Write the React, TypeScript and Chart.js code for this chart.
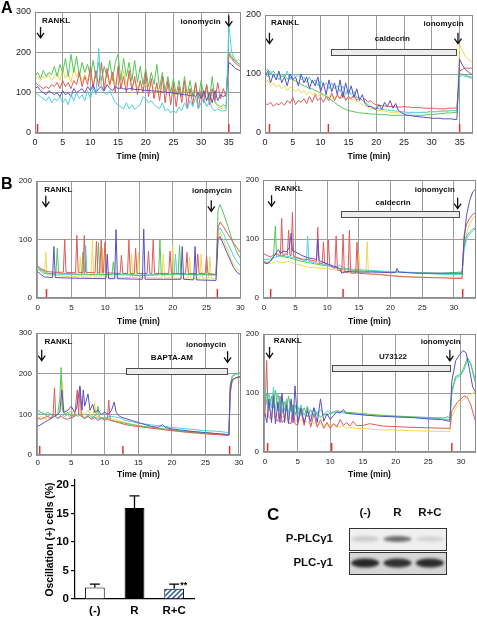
import React, { useEffect, useRef } from 'react';
import { Chart, registerables } from 'chart.js';

Chart.register(...registerables);

const SANS = "'Liberation Sans', Arial, Helvetica, sans-serif";
const NARROW = "'Liberation Sans Narrow', 'Arial Narrow', 'Liberation Sans', Arial, sans-serif";

const RED = '#e05a5a';
const YELLOW = '#ecda55';
const GREEN = '#55c655';
const CYAN = '#4fd0e2';
const BLUE = '#5a4fc4';

// ---------------- Panel A : samples every 0.5 min from 0 to 37.5 min ----------------
const A_STEP = 0.5;

const aLeftGreen = [
  140, 150, 135, 155, 140, 150, 145, 165, 140, 170,
  150, 185, 140, 195, 150, 190, 140, 175, 150, 170,
  140, 180, 135, 175, 130, 165, 140, 180, 130, 175,
  195, 130, 185, 140, 175, 130, 180, 125, 165, 120,
  160, 115, 150, 120, 170, 110, 150, 105, 140, 100,
  135, 95, 130, 90, 140, 95, 130, 90, 125, 85,
  130, 90, 120, 80, 140, 75, 70, 65, 70, 65,
  200, 190, 180, 175, 170, 165,
];
const aLeftYellow = [
  135, 140, 130, 140, 135, 145, 130, 140, 150, 130,
  160, 135, 150, 125, 160, 140, 155, 125, 145, 130,
  150, 120, 150, 125, 160, 120, 145, 115, 150, 120,
  140, 115, 155, 120, 140, 115, 130, 110, 125, 110,
  120, 105, 120, 110, 115, 105, 110, 100, 115, 105,
  110, 100, 110, 95, 105, 100, 110, 95, 105, 95,
  100, 90, 105, 90, 95, 80, 65, 60, 62, 60,
  190, 185, 182, 180, 180, 178,
];
const aLeftRed = [
  125, 120, 115, 110, 115, 110, 120, 115, 125, 110,
  130, 115, 125, 110, 130, 120, 150, 115, 140, 120,
  165, 110, 155, 115, 175, 105, 160, 120, 150, 100,
  165, 110, 140, 100, 155, 105, 140, 95, 130, 100,
  150, 90, 135, 85, 125, 80, 140, 75, 130, 70,
  120, 65, 115, 75, 130, 60, 110, 70, 125, 60,
  105, 75, 120, 70, 110, 80, 125, 85, 110, 90,
  195, 185, 175, 170, 165, 162,
];
const aLeftBlue = [
  110, 115, 105, 100, 95, 105, 100, 95, 100, 90,
  105, 95, 100, 90, 110, 100, 105, 110, 100, 115,
  105, 120, 100, 110, 115, 105, 120, 110, 105, 115,
  110, 112, 110, 108, 110, 110, 108, 108, 108, 106,
  106, 105, 105, 104, 104, 103, 102, 102, 100, 100,
  99, 98, 97, 96, 95, 94, 92, 95, 90, 100,
  85, 105, 80, 100, 75, 105, 80, 95, 90, 95,
  175, 170, 162, 158, 155, 155,
];
const aLeftCyan = [
  100, 95, 90, 85, 80, 90, 75, 85, 80, 90,
  75, 85, 70, 95, 80, 100, 85, 95, 80, 105,
  85, 110, 95, 210, 110, 100, 95, 105, 90, 75,
  70, 65, 60, 75, 60, 70, 58, 65, 70, 90,
  85, 75, 80, 70, 65, 60, 75, 55, 60, 50,
  55, 50, 65, 55, 75, 60, 80, 65, 90, 60,
  75, 85, 65, 80, 60, 55, 60, 55, 55, 55,
  270, 200, 185, 175, 170, 168,
];

const aRightBlue = [
  95, 105, 85, 100, 90, 105, 85, 95, 80, 100,
  90, 95, 80, 100, 85, 95, 75, 90, 80, 95,
  70, 85, 65, 90, 70, 85, 65, 90, 60, 85,
  65, 80, 60, 75, 55, 65, 50, 45, 45, 42,
  40, 48, 40, 52, 45, 55, 42, 50, 38, 35,
  32, 30, 30, 29, 28, 28, 27, 27, 26, 26,
  25, 25, 25, 25, 24, 24, 24, 24, 23, 23,
  125, 115, 108, 104, 100, 98,
];
const aRightCyan = [
  100, 95, 105, 95, 100, 90, 100, 95, 105, 90,
  100, 95, 100, 90, 95, 85, 95, 85, 90, 80,
  90, 80, 85, 75, 85, 75, 80, 70, 80, 65,
  75, 65, 70, 60, 60, 55, 52, 48, 45, 43,
  42, 41, 40, 40, 39, 38, 38, 37, 37, 36,
  36, 35, 35, 35, 35, 35, 35, 35, 35, 36,
  36, 36, 36, 37, 37, 37, 37, 38, 38, 38,
  95, 98, 96, 95, 93, 92,
];
const aRightGreen = [
  105, 108, 100, 105, 98, 100, 95, 98, 92, 95,
  90, 88, 85, 82, 80, 78, 75, 75, 72, 70,
  68, 65, 62, 60, 55, 52, 48, 45, 42, 40,
  38, 37, 36, 35, 34, 34, 33, 33, 32, 32,
  32, 31, 31, 31, 31, 30, 30, 30, 30, 30,
  30, 30, 30, 30, 30, 30, 30, 30, 31, 31,
  31, 32, 32, 33, 33, 34, 34, 34, 35, 35,
  100, 100, 98, 96, 95, 94,
];
const aRightYellow = [
  85, 90, 80, 85, 78, 82, 75, 80, 72, 78,
  75, 70, 75, 68, 72, 65, 70, 65, 68, 62,
  66, 62, 65, 60, 63, 60, 62, 58, 62, 58,
  60, 56, 58, 54, 52, 48, 46, 44, 42, 40,
  40, 38, 38, 37, 36, 35, 35, 34, 34, 34,
  33, 33, 33, 34, 34, 34, 35, 35, 35, 36,
  36, 36, 37, 37, 38, 38, 38, 38, 38, 38,
  150, 140, 130, 125, 122, 120,
];
const aRightRed = [
  50, 48, 52, 45, 50, 48, 52, 47, 55, 50,
  60, 48, 55, 52, 58, 50, 62, 52, 65, 55,
  60, 52, 62, 55, 68, 55, 65, 58, 70, 55,
  62, 58, 65, 55, 60, 55, 58, 52, 55, 50,
  48, 47, 46, 46, 45, 45, 45, 44, 44, 44,
  45, 44, 44, 43, 43, 43, 43, 42, 42, 42,
  42, 42, 41, 41, 41, 41, 42, 42, 42, 43,
  105, 108, 110, 110, 110, 110,
];

// ---------------- Panel B : [time (min), value] ----------------
const b1LeftRed = [
  [0, 55], [0.5, 50], [1, 47], [1.5, 45], [2.5, 44], [3.8, 44], [4, 100], [4.2, 44], [5.6, 43], [5.8, 107], [6, 44],
  [6.7, 43], [6.9, 107], [7.1, 44], [8.5, 43], [8.7, 97], [8.9, 43], [9.2, 43], [9.4, 100], [9.6, 43], [9.75, 43],
  [9.95, 95], [10.15, 43], [12.2, 42], [12.4, 73], [12.6, 42], [13.3, 42], [13.5, 100], [13.7, 42], [14.3, 42],
  [14.5, 85], [14.7, 42], [16.2, 42], [16.4, 80], [16.6, 42], [16.9, 42], [17.1, 100], [17.3, 42], [19.4, 42],
  [19.6, 80], [19.8, 42], [21.9, 42], [22.1, 78], [22.3, 42], [23.5, 42], [23.7, 75], [23.9, 42], [24.8, 42],
  [25, 72], [25.2, 42], [26.4, 40], [26.7, 120], [27, 130], [27.5, 122], [28, 112], [28.5, 103], [29, 94],
  [29.5, 86], [30, 78], [30.3, 74],
];
const b1LeftGreen = [
  [0, 52], [0.5, 48], [1, 45], [1.5, 42], [2.7, 41], [2.9, 85], [3.1, 41], [4.5, 42], [6.5, 40], [6.7, 78], [6.9, 40],
  [8.8, 40], [9, 95], [9.2, 40], [11, 40], [11.2, 62], [11.4, 40], [13, 41], [15, 38], [17.9, 40], [18.1, 100],
  [18.3, 40], [20.8, 41], [21, 90], [21.2, 41], [23, 40], [26.4, 40], [26.7, 150], [27, 160], [27.5, 145],
  [28, 128], [28.5, 110], [29, 92], [29.5, 78], [30, 68], [30.3, 63],
];
const b1LeftYellow = [
  [0, 50], [0.5, 45], [1, 40], [1.2, 78], [1.4, 40], [3, 38], [6.1, 36], [6.3, 70], [6.5, 36], [7.9, 36], [8.1, 98],
  [8.3, 36], [9.4, 36], [9.6, 85], [9.8, 36], [13.7, 35], [13.9, 75], [14.1, 35], [14.7, 35], [14.9, 78], [15.1, 35],
  [18.4, 34], [18.6, 75], [18.8, 34], [19.8, 34], [20, 90], [20.2, 34], [22.3, 34], [22.5, 70], [22.7, 34],
  [24, 34], [24.2, 75], [24.4, 34], [25.3, 34], [25.5, 70], [25.7, 34], [26.4, 33], [26.7, 100], [27, 112],
  [27.5, 100], [28, 85], [28.5, 70], [29, 58], [29.5, 50], [30, 45], [30.3, 42],
];
const b1LeftCyan = [
  [0, 50], [0.5, 46], [1, 42], [2, 41], [6.9, 40], [7.1, 90], [7.3, 40], [10, 40], [15, 39], [20.2, 40], [20.4, 75],
  [20.6, 40], [24, 40], [26.4, 39], [26.7, 115], [27, 120], [27.5, 110], [28, 97], [28.5, 85], [29, 72],
  [29.5, 62], [30, 55], [30.3, 52],
];
const b1LeftBlue = [
  [0, 45], [0.5, 40], [1, 36], [2.2, 35], [2.4, 88], [2.6, 35], [5, 34], [10.1, 33], [10.3, 75], [10.5, 33],
  [11.4, 33], [11.6, 117], [11.8, 33], [15.5, 32], [15.7, 118], [15.9, 32], [21.2, 32], [21.4, 88], [21.6, 32],
  [23.1, 31], [23.3, 88], [23.5, 31], [26.4, 30], [26.7, 100], [27, 105], [27.5, 92], [28, 78], [28.5, 65],
  [29, 52], [29.5, 44], [30, 40], [30.3, 38],
];

const b1RightRed = [
  [0, 75], [0.5, 72], [1, 70], [1.5, 72], [2, 75], [2.6, 72], [2.8, 135], [3, 72], [3.5, 75], [3.7, 73], [3.9, 115],
  [4.1, 72], [4.3, 72], [4.5, 145], [4.7, 70], [5.5, 68], [6, 66], [7, 65], [8.3, 62], [8.5, 120], [8.7, 60],
  [9.2, 58], [9.4, 95], [9.6, 58], [10, 57], [10.2, 98], [10.4, 55], [11.2, 50], [11.4, 105], [11.6, 48],
  [12.3, 45], [12.5, 108], [12.7, 44], [13.3, 43], [13.5, 115], [13.7, 42], [14.5, 42], [14.7, 95], [14.9, 42],
  [16, 41], [18, 40], [20, 38], [22, 36], [25, 35], [28, 34], [31.3, 33], [31.6, 105], [32, 125], [32.5, 135],
  [33, 142], [33.5, 145],
];
const b1RightGreen = [
  [0, 62], [0.5, 60], [1, 62], [1.5, 68], [1.8, 122], [2, 70], [2.5, 72], [3, 70], [4, 68], [5, 65], [6, 62],
  [7, 60], [8, 58], [9, 56], [10, 55], [11, 52], [12, 50], [13, 48], [15, 46], [18, 45], [21, 44], [25, 43],
  [28, 42], [31.3, 44], [31.6, 85], [32, 105], [32.5, 112], [33, 117], [33.5, 120],
];
const b1RightYellow = [
  [0, 60], [1, 58], [2, 62], [3, 60], [4, 62], [5, 58], [6, 55], [7, 52], [8, 52], [9, 50], [10, 50], [11, 48],
  [12, 46], [13, 44], [14, 44], [14.8, 42], [15, 75], [15.2, 42], [16.1, 42], [16.3, 95], [16.5, 42], [18, 40],
  [20, 38], [23, 36], [26, 35], [29, 35], [31.3, 35], [31.6, 90], [32, 110], [32.5, 125], [33, 135], [33.5, 140],
];
const b1RightCyan = [
  [0, 65], [1, 66], [2, 70], [3, 72], [4, 70], [5, 68], [6, 65], [6.7, 62], [6.9, 105], [7.1, 62], [8, 60],
  [9, 58], [10, 55], [11, 52], [12, 55], [12.5, 52], [13, 50], [15, 48], [18, 46], [21, 44], [25, 42], [28, 40],
  [31.3, 40], [31.6, 80], [32, 100], [32.5, 108], [33, 114], [33.5, 118],
];
const b1RightBlue = [
  [0, 60], [0.5, 58], [1, 62], [1.5, 70], [2, 78], [2.3, 82], [2.6, 75], [3, 80], [3.5, 78], [4, 85], [4.3, 110],
  [4.5, 80], [5, 78], [5.5, 75], [6, 72], [6.5, 70], [7, 68], [8, 66], [8.3, 65], [8.5, 100], [8.7, 64], [9, 62],
  [10, 58], [11, 54], [12, 50], [12.3, 42], [13, 45], [15, 44], [17, 44], [20, 43], [20.8, 43], [21, 50],
  [21.3, 44], [24, 42], [27, 42], [30, 42], [31.3, 42], [31.6, 95], [32, 140], [32.5, 165], [33, 180], [33.5, 185],
];

const b2LeftRed = [
  [0, 90], [0.5, 88], [1, 92], [1.5, 95], [2, 90], [2.3, 100], [2.5, 165], [2.7, 95], [3, 90], [3.5, 95], [4, 90],
  [4.5, 88], [5, 92], [5.5, 95], [5.9, 160], [6.1, 100], [6.3, 165], [6.5, 95], [7, 90], [7.5, 95], [8, 88],
  [8.5, 92], [9, 85], [9.5, 90], [10, 85], [10.4, 90], [10.6, 135], [10.8, 85], [11.5, 82], [12, 80], [13, 75],
  [14, 72], [15, 70], [17, 66], [19, 62], [21, 58], [23, 55], [25, 52], [27, 50], [28.5, 48], [28.7, 150],
  [29, 185], [29.5, 190], [30, 192], [30.3, 192],
];
const b2LeftGreen = [
  [0, 110], [0.5, 105], [1, 100], [1.5, 105], [2, 100], [2.5, 95], [3, 100], [3.3, 140], [3.5, 215], [3.7, 110],
  [4, 100], [4.5, 105], [5, 95], [5.5, 100], [6, 95], [6.5, 100], [7, 90], [7.5, 95], [8, 90], [8.8, 100],
  [9, 120], [9.2, 92], [10, 90], [11, 85], [12, 82], [13, 78], [14, 75], [15, 72], [17, 68], [19, 64], [21, 60],
  [23, 57], [25, 55], [27, 52], [28.5, 50], [28.7, 170], [29, 195], [29.5, 200], [30, 202], [30.3, 202],
];
const b2LeftYellow = [
  [0, 90], [0.5, 95], [1, 90], [1.5, 88], [2, 92], [2.5, 95], [3, 100], [3.5, 110], [3.7, 180], [3.9, 105],
  [4.5, 100], [5, 110], [5.5, 95], [6, 100], [6.5, 105], [7, 100], [7.5, 110], [8, 95], [8.3, 100], [8.5, 130],
  [8.7, 95], [9.5, 92], [10.5, 90], [11.5, 88], [12, 85], [13, 80], [14, 76], [15, 72], [17, 66], [19, 62],
  [21, 58], [23, 55], [25, 52], [27, 50], [28.5, 48], [28.7, 160], [29, 180], [29.5, 188], [30, 190], [30.3, 190],
];
const b2LeftCyan = [
  [0, 100], [0.5, 105], [1, 100], [1.5, 95], [2, 100], [2.5, 95], [3, 90], [3.5, 100], [4, 95], [4.5, 100],
  [5, 90], [5.5, 95], [6, 100], [6.5, 95], [7, 92], [7.5, 98], [8, 95], [9, 90], [10, 92], [11, 95], [12, 92],
  [12.5, 90], [13, 85], [14, 82], [15, 78], [17, 74], [19, 70], [21, 66], [23, 63], [25, 60], [27, 58],
  [28.5, 55], [28.7, 175], [29, 192], [29.5, 198], [30, 200], [30.3, 200],
];
const b2LeftBlue = [
  [0, 70], [0.5, 75], [1, 80], [1.5, 85], [2, 90], [2.5, 95], [3, 100], [3.3, 105], [3.6, 160], [3.9, 105],
  [4.5, 110], [5, 120], [5.5, 105], [5.8, 115], [6.3, 170], [6.6, 110], [6.8, 160], [7, 120], [7.5, 150],
  [7.8, 110], [8.2, 125], [8.5, 105], [9, 110], [9.5, 100], [10, 105], [10.5, 100], [11, 110], [11.4, 130],
  [11.7, 105], [12.2, 95], [13, 90], [14, 85], [15, 80], [16, 75], [17, 70], [18, 68], [18.6, 75], [19, 68],
  [20, 64], [21, 62], [23, 58], [25, 55], [27, 52], [28.5, 50], [28.7, 165], [29, 185], [29.5, 190], [30, 192],
  [30.3, 192],
];

const b2RightRed = [
  [0, 60], [0.25, 155], [0.5, 60], [1, 55], [1.3, 100], [1.6, 55], [2, 52], [2.3, 95], [2.6, 50], [3, 55],
  [3.3, 90], [3.6, 50], [4, 48], [4.3, 80], [4.6, 48], [5, 45], [5.5, 70], [6, 45], [6.5, 75], [7, 42], [7.5, 65],
  [8, 42], [8.5, 55], [9, 40], [9.5, 50], [10, 40], [10.5, 48], [11, 42], [11.5, 55], [12, 45], [12.5, 50],
  [13, 44], [13.5, 52], [14, 45], [15, 45], [16, 48], [17, 46], [18, 44], [20, 43], [22, 42], [25, 41],
  [28.3, 40], [28.6, 70], [29.5, 85], [30.5, 95], [31, 92], [31.5, 80], [32, 60], [32.3, 50],
];
const b2RightCyan = [
  [0, 110], [0.3, 80], [0.6, 100], [1, 75], [1.3, 110], [1.6, 70], [2, 100], [2.3, 70], [2.6, 95], [3, 70],
  [3.3, 90], [3.6, 65], [4, 85], [4.3, 65], [4.6, 80], [5, 62], [5.5, 80], [6, 62], [6.5, 78], [7, 60], [7.5, 75],
  [8, 62], [8.5, 72], [9, 62], [9.5, 70], [10, 65], [11, 68], [12, 66], [14, 64], [16, 62], [18, 61], [20, 60],
  [22, 59], [24, 58], [26, 57], [28.3, 55], [28.6, 100], [29.2, 125], [30, 130], [30.5, 140], [31, 155],
  [31.5, 150], [32, 130], [32.3, 120],
];
const b2RightGreen = [
  [0, 90], [0.3, 100], [0.6, 70], [1, 95], [1.3, 75], [1.6, 105], [2, 70], [2.3, 90], [2.6, 65], [3, 85],
  [3.3, 70], [3.6, 95], [4, 68], [4.3, 80], [4.6, 62], [5, 78], [5.5, 62], [6, 75], [6.5, 60], [7, 72], [7.5, 60],
  [8, 68], [8.5, 58], [9, 65], [9.5, 62], [10, 66], [10.5, 68], [11, 70], [12, 68], [14, 66], [16, 64], [18, 62],
  [20, 61], [22, 60], [24, 59], [26, 58], [27.5, 58], [28, 60], [28.3, 56], [28.6, 105], [29.2, 128], [30, 132],
  [30.5, 145], [31, 160], [31.5, 150], [32, 125], [32.3, 115],
];
const b2RightBlue = [
  [0, 65], [0.3, 50], [0.6, 90], [1, 50], [1.3, 95], [1.6, 48], [2, 85], [2.3, 50], [2.6, 100], [3, 50],
  [3.3, 80], [3.6, 48], [4, 90], [4.3, 50], [4.6, 112], [5, 50], [5.5, 75], [6, 50], [6.5, 70], [7, 52],
  [7.5, 75], [8, 50], [8.5, 90], [9, 52], [9.5, 65], [10, 55], [10.5, 62], [11, 68], [11.5, 66], [12, 72],
  [12.4, 66], [13, 65], [15, 63], [17, 61], [19, 60], [21, 59], [23, 58], [25, 56], [27, 55], [28.3, 52],
  [28.6, 120], [29.2, 155], [29.8, 165], [30.3, 172], [30.8, 168], [31.3, 140], [31.8, 110], [32.3, 100],
];
const b2RightYellow = [
  [0, 65], [0.5, 60], [1, 62], [1.5, 58], [2, 65], [2.5, 60], [3, 60], [3.5, 55], [4, 58], [4.5, 55], [5, 52],
  [5.5, 55], [6, 50], [6.5, 52], [7, 48], [7.5, 50], [8, 46], [8.5, 48], [9, 45], [9.5, 46], [10, 45],
  [10.5, 48], [11, 45], [11.5, 42], [12, 44], [12.5, 40], [13, 42], [14, 40], [15, 40], [17, 38], [20, 37],
  [23, 36], [26, 35], [28.3, 35], [28.6, 60], [29.5, 80], [30.5, 90], [31.5, 98], [32.3, 102],
];

// ---------------- Bar chart ----------------
const barLabels = ['(-)', 'R', 'R+C'];
const barValues = [2.0, 16.0, 1.8];
const barErrorTops = [2.6, 18.1, 2.6];
const barSig = ['', '', '**'];

// ---------------- Western blot (band intensity 0–1) ----------------
const blotLanes = ['(-)', 'R', 'R+C'];
const blotRows = ['P-PLCγ1', 'PLC-γ1'];
const blotPPlc = [0.16, 0.6, 0.12];
const blotPlc = [0.9, 0.85, 0.88];

type Pt = { x: number; y: number };
const fromSteps = (vals: number[], step: number): Pt[] => vals.map((y, i) => ({ x: i * step, y }));
const fromPairs = (pairs: number[][]): Pt[] => pairs.map(([x, y]) => ({ x, y }));

interface Panel {
  box: { left: number; top: number; width: number; height: number };
  padTop: number;
  padRight: number;
  yW: number;
  xH: number;
  xMin: number;
  xMax: number;
  yMax: number;
  tickFont: { family: string; size: number };
  tickPad: number;
  titlePad: number;
  series: { color: string; pts: Pt[] }[];
  texts: [number, number, string][];
  arrows: [number, number][];
  bars: [number, number, number][];
  marks: number[];
}

const A_TICK = { family: SANS, size: 9 };
const B_TICK = { family: NARROW, size: 8 };

const PANELS: Panel[] = [
  {
    box: { left: 0, top: 0, width: 250, height: 162 }, padTop: 12, padRight: 9, yW: 35, xH: 29,
    xMin: 0, xMax: 37.2, yMax: 300, tickFont: A_TICK, tickPad: 4, titlePad: 2,
    series: [
      { color: CYAN, pts: fromSteps(aLeftCyan, A_STEP) },
      { color: BLUE, pts: fromSteps(aLeftBlue, A_STEP) },
      { color: RED, pts: fromSteps(aLeftRed, A_STEP) },
      { color: GREEN, pts: fromSteps(aLeftGreen, A_STEP) },
      { color: YELLOW, pts: fromSteps(aLeftYellow, A_STEP) },
    ],
    texts: [[3.8, 277, 'RANKL'], [29.9, 275, 'ionomycin']],
    arrows: [[1.0, 263], [35.0, 292]],
    bars: [],
    marks: [0.45, 35],
  },
  {
    box: { left: 242, top: 0, width: 235, height: 162 }, padTop: 15, padRight: 4, yW: 23, xH: 29,
    xMin: 0, xMax: 37.4, yMax: 200, tickFont: A_TICK, tickPad: 4, titlePad: 2,
    series: [
      { color: BLUE, pts: fromSteps(aRightBlue, A_STEP) },
      { color: CYAN, pts: fromSteps(aRightCyan, A_STEP) },
      { color: GREEN, pts: fromSteps(aRightGreen, A_STEP) },
      { color: RED, pts: fromSteps(aRightRed, A_STEP) },
      { color: YELLOW, pts: fromSteps(aRightYellow, A_STEP) },
    ],
    texts: [[3.6, 186, 'RANKL'], [22.9, 160, 'caldecrin'], [32.1, 185, 'ionomycin']],
    arrows: [[0.8, 170], [34.7, 170]],
    bars: [[11.8, 34.4, 138]],
    marks: [0.8, 11.4, 35],
  },
  {
    box: { left: 0, top: 165, width: 250, height: 162 }, padTop: 16, padRight: 9, yW: 36, xH: 29,
    xMin: -0.25, xMax: 30.1, yMax: 200, tickFont: B_TICK, tickPad: 5, titlePad: 2,
    series: [
      { color: BLUE, pts: fromPairs(b1LeftBlue) },
      { color: RED, pts: fromPairs(b1LeftRed) },
      { color: GREEN, pts: fromPairs(b1LeftGreen) },
      { color: CYAN, pts: fromPairs(b1LeftCyan) },
      { color: YELLOW, pts: fromPairs(b1LeftYellow) },
    ],
    texts: [[3.05, 185, 'RANKL'], [25.8, 183, 'ionomycin']],
    arrows: [[1.2, 175], [25.7, 167]],
    bars: [],
    marks: [1.3, 26.6],
  },
  {
    box: { left: 242, top: 165, width: 235, height: 162 }, padTop: 15, padRight: 1, yW: 21, xH: 29,
    xMin: -0.15, xMax: 33.5, yMax: 200, tickFont: B_TICK, tickPad: 5, titlePad: 2,
    series: [
      { color: BLUE, pts: fromPairs(b1RightBlue) },
      { color: RED, pts: fromPairs(b1RightRed) },
      { color: CYAN, pts: fromPairs(b1RightCyan) },
      { color: GREEN, pts: fromPairs(b1RightGreen) },
      { color: YELLOW, pts: fromPairs(b1RightYellow) },
    ],
    texts: [[3.9, 185, 'RANKL'], [20.4, 161, 'caldecrin'], [27.0, 184, 'ionomycin']],
    arrows: [[1.2, 174], [30.6, 170]],
    bars: [[12.2, 30.8, 142]],
    marks: [1.06, 12.5, 31.4],
  },
  {
    box: { left: 0, top: 328, width: 250, height: 152 }, padTop: 5, padRight: 9, yW: 36, xH: 25,
    xMin: -0.25, xMax: 30.3, yMax: 300, tickFont: B_TICK, tickPad: 3, titlePad: 1,
    series: [
      { color: BLUE, pts: fromPairs(b2LeftBlue) },
      { color: RED, pts: fromPairs(b2LeftRed) },
      { color: GREEN, pts: fromPairs(b2LeftGreen) },
      { color: CYAN, pts: fromPairs(b2LeftCyan) },
      { color: YELLOW, pts: fromPairs(b2LeftYellow) },
    ],
    texts: [[3.1, 278, 'RANKL'], [20, 238, 'BAPTA-AM'], [25.1, 272, 'ionomycin']],
    arrows: [[0.6, 259], [28.3, 255]],
    bars: [[13.2, 28.2, 207]],
    marks: [0.3, 12.7, 28.6],
  },
  {
    box: { left: 242, top: 328, width: 235, height: 152 }, padTop: 6, padRight: 1, yW: 21, xH: 28,
    xMin: -0.3, xMax: 32.3, yMax: 200, tickFont: B_TICK, tickPad: 5, titlePad: 0,
    series: [
      { color: BLUE, pts: fromPairs(b2RightBlue) },
      { color: GREEN, pts: fromPairs(b2RightGreen) },
      { color: CYAN, pts: fromPairs(b2RightCyan) },
      { color: RED, pts: fromPairs(b2RightRed) },
      { color: YELLOW, pts: fromPairs(b2RightYellow) },
    ],
    texts: [[3.5, 189, 'RANKL'], [19.6, 161, 'U73122'], [26.9, 187, 'ionomycin']],
    arrows: [[0.7, 178], [28.3, 173]],
    bars: [[10.3, 28.3, 142]],
    marks: [0.4, 10.2, 28.6],
  },
];

function annotPlugin(p: Panel) {
  return {
    id: 'panelAnnot',
    afterDatasetsDraw(chart: any) {
      const { ctx, chartArea: a } = chart;
      const x = chart.scales.x;
      const y = chart.scales.y;
      ctx.save();
      // red event markers
      ctx.strokeStyle = '#e23030';
      ctx.lineWidth = 1.5;
      p.marks.forEach((t) => {
        const px = x.getPixelForValue(t);
        ctx.beginPath();
        ctx.moveTo(px, a.bottom);
        ctx.lineTo(px, a.bottom - 9);
        ctx.stroke();
      });
      // treatment bars
      p.bars.forEach(([t0, t1, v]) => {
        const x0 = Math.round(x.getPixelForValue(t0)) + 0.5;
        const x1 = Math.round(x.getPixelForValue(t1)) + 0.5;
        const yc = Math.round(y.getPixelForValue(v));
        ctx.fillStyle = '#ececec';
        ctx.fillRect(x0, yc - 3, x1 - x0, 6);
        ctx.strokeStyle = '#4a4a4a';
        ctx.lineWidth = 1;
        ctx.strokeRect(x0, yc - 2.5, x1 - x0, 6);
      });
      // arrows
      ctx.strokeStyle = '#111';
      ctx.lineWidth = 1.3;
      p.arrows.forEach(([t, v]) => {
        const px = x.getPixelForValue(t);
        const top = y.getPixelForValue(v);
        const bot = top + 11;
        ctx.beginPath();
        ctx.moveTo(px, top);
        ctx.lineTo(px, bot);
        ctx.moveTo(px - 3.5, bot - 5);
        ctx.lineTo(px, bot);
        ctx.lineTo(px + 3.5, bot - 5);
        ctx.stroke();
      });
      // labels
      ctx.fillStyle = '#111';
      ctx.font = `bold 8px ${SANS}`;
      ctx.textAlign = 'center';
      ctx.textBaseline = 'middle';
      p.texts.forEach(([t, v, s]) => ctx.fillText(s, x.getPixelForValue(t), y.getPixelForValue(v)));
      ctx.restore();
    },
    afterDraw(chart: any) {
      const { ctx, chartArea: a } = chart;
      ctx.save();
      ctx.strokeStyle = '#8c8c8c';
      ctx.lineWidth = 1;
      ctx.strokeRect(Math.round(a.left) + 0.5, Math.round(a.top) + 0.5, Math.round(a.right - a.left) - 1, Math.round(a.bottom - a.top) - 1);
      ctx.restore();
    },
  };
}

function TraceChart({ panel }: { panel: Panel }) {
  const ref = useRef<HTMLCanvasElement>(null);
  useEffect(() => {
    const p = panel;
    const chart = new Chart(ref.current as HTMLCanvasElement, {
      type: 'line',
      data: {
        datasets: p.series.map((s) => ({
          data: s.pts as any,
          borderColor: s.color,
          borderWidth: 1,
          pointRadius: 0,
          tension: 0,
          fill: false,
        })),
      },
      options: {
        responsive: false,
        animation: false,
        devicePixelRatio: 1,
        layout: { padding: { top: p.padTop, right: p.padRight, left: 0, bottom: 0 } },
        plugins: { legend: { display: false }, tooltip: { enabled: false } },
        scales: {
          x: {
            type: 'linear',
            min: p.xMin,
            max: p.xMax,
            ticks: { stepSize: 5, includeBounds: false, autoSkip: false, maxRotation: 0, padding: p.tickPad, color: '#222', font: p.tickFont },
            grid: { color: '#9c9c9c', lineWidth: 1, drawTicks: false, tickLength: 0 },
            border: { display: false },
            title: { display: true, text: 'Time (min)', color: '#111', font: { family: SANS, size: 8.5, weight: 'bold' }, padding: { top: p.titlePad, bottom: 0 } },
            afterFit: (s: any) => { s.height = p.xH; s.paddingLeft = 0; s.paddingRight = 0; },
          },
          y: {
            type: 'linear',
            min: 0,
            max: p.yMax,
            ticks: { stepSize: 100, includeBounds: false, padding: 4, color: '#222', font: p.tickFont },
            grid: { color: '#9c9c9c', lineWidth: 1, drawTicks: false, tickLength: 0 },
            border: { display: false },
            afterFit: (s: any) => { s.width = p.yW; s.paddingTop = 0; s.paddingBottom = 0; },
          },
        },
      } as any,
      plugins: [annotPlugin(p)],
    });
    return () => chart.destroy();
  }, [panel]);
  const b = panel.box;
  return (
    <canvas ref={ref} width={b.width} height={b.height}
      style={{ position: 'absolute', left: b.left, top: b.top, width: b.width, height: b.height }} />
  );
}

function makeHatch(): CanvasPattern | string {
  const c = document.createElement('canvas');
  c.width = 5;
  c.height = 5;
  const g = c.getContext('2d');
  if (!g) return '#3558a8';
  g.fillStyle = '#ffffff';
  g.fillRect(0, 0, 5, 5);
  g.strokeStyle = '#2f56a8';
  g.lineWidth = 1.5;
  g.beginPath();
  g.moveTo(0, 5); g.lineTo(5, 0);
  g.moveTo(-1, 1); g.lineTo(1, -1);
  g.moveTo(4, 6); g.lineTo(6, 4);
  g.stroke();
  return g.createPattern(c, 'repeat') || '#3558a8';
}

function BarChart() {
  const ref = useRef<HTMLCanvasElement>(null);
  useEffect(() => {
    const errPlugin = {
      id: 'errBars',
      afterDatasetsDraw(chart: any) {
        const { ctx } = chart;
        const y = chart.scales.y;
        const meta = chart.getDatasetMeta(0);
        ctx.save();
        ctx.strokeStyle = '#000';
        ctx.lineWidth = 1.3;
        meta.data.forEach((el: any, i: number) => {
          const top = y.getPixelForValue(barErrorTops[i]);
          ctx.beginPath();
          ctx.moveTo(el.x, el.y);
          ctx.lineTo(el.x, top);
          ctx.moveTo(el.x - 5, top);
          ctx.lineTo(el.x + 5, top);
          ctx.stroke();
          if (barSig[i]) {
            ctx.fillStyle = '#000';
            ctx.font = `bold 9px ${SANS}`;
            ctx.textAlign = 'left';
            ctx.textBaseline = 'middle';
            ctx.fillText(barSig[i], el.x + 6, top + 1);
          }
        });
        ctx.restore();
      },
    };
    const tickFont = { family: SANS, size: 11.5, weight: 'bold' };
    const chart = new Chart(ref.current as HTMLCanvasElement, {
      type: 'bar',
      data: {
        labels: barLabels,
        datasets: [{
          data: barValues,
          backgroundColor: ['#ffffff', '#000000', makeHatch() as any],
          borderColor: '#000',
          borderWidth: 1,
          barPercentage: 0.5,
          categoryPercentage: 1,
        }],
      },
      options: {
        responsive: false,
        animation: false,
        devicePixelRatio: 1,
        layout: { padding: { left: 40, top: 4, right: 6, bottom: 0 } },
        plugins: { legend: { display: false }, tooltip: { enabled: false } },
        scales: {
          x: {
            grid: { display: false, drawTicks: false, tickLength: 0 },
            border: { color: '#000', width: 1.2 },
            ticks: { font: tickFont, color: '#000', padding: 5 },
            afterFit: (s: any) => { s.height = 19; s.paddingLeft = 0; s.paddingRight = 0; },
          },
          y: {
            min: 0,
            max: 20.9,
            ticks: { stepSize: 5, includeBounds: false, font: tickFont, color: '#000', padding: 2 },
            grid: { display: true, drawOnChartArea: false, drawTicks: true, tickLength: 4, color: '#000', lineWidth: 1.2 },
            border: { color: '#000', width: 1.2 },
            title: { display: true, text: 'Oscillation (+) cells (%)', color: '#000', font: { family: SANS, size: 10.4, weight: 'bold' }, padding: { top: 4, bottom: 0 } },
            afterFit: (s: any) => { s.width = 35; s.paddingTop = 0; s.paddingBottom = 0; },
          },
        },
      } as any,
      plugins: [errPlugin],
    });
    return () => chart.destroy();
  }, []);
  return (
    <canvas ref={ref} width={200} height={142}
      style={{ position: 'absolute', left: 0, top: 476, width: 200, height: 142 }} />
  );
}

function BlotChart() {
  const ref = useRef<HTMLCanvasElement>(null);
  useEffect(() => {
    const rowsData = [blotPPlc, blotPlc];
    const rowBg = ['#f0f0f0', '#d6d6d6'];
    const bandH = [6, 9];
    const blotPlugin = {
      id: 'blot',
      beforeDatasetsDraw(chart: any) {
        const { ctx, chartArea: a } = chart;
        const x = chart.scales.x;
        const y = chart.scales.y;
        rowsData.forEach((vals, r) => {
          const yc = y.getPixelForValue(r);
          const top = Math.round(yc - 11);
          ctx.save();
          ctx.fillStyle = rowBg[r];
          ctx.fillRect(a.left, top, a.right - a.left, 22);
          ctx.beginPath();
          ctx.rect(a.left, top, a.right - a.left, 22);
          ctx.clip();
          vals.forEach((v, l) => {
            const xc = x.getPixelForValue(l);
            ctx.save();
            ctx.filter = 'blur(1.6px)';
            ctx.fillStyle = `rgba(20,20,20,${v})`;
            ctx.beginPath();
            ctx.ellipse(xc, yc, 14, bandH[r] / 2, 0, 0, Math.PI * 2);
            ctx.fill();
            ctx.restore();
          });
          ctx.restore();
          ctx.save();
          ctx.strokeStyle = '#333';
          ctx.lineWidth = 1;
          ctx.strokeRect(Math.round(a.left) + 0.5, top + 0.5, Math.round(a.right - a.left), 22);
          ctx.restore();
        });
      },
    };
    const f = { family: SANS, size: 11.5, weight: 'bold' };
    const chart = new Chart(ref.current as HTMLCanvasElement, {
      type: 'scatter',
      data: {
        datasets: rowsData.map((vals, r) => ({
          data: vals.map((v, l) => ({ x: blotLanes[l], y: blotRows[r], v })) as any,
          pointRadius: 0,
        })),
      },
      options: {
        responsive: false,
        animation: false,
        devicePixelRatio: 1,
        layout: { padding: { left: 0, top: 0, right: 31, bottom: 10 } },
        plugins: { legend: { display: false }, tooltip: { enabled: false } },
        scales: {
          x: {
            type: 'category', labels: blotLanes, position: 'top', offset: true,
            grid: { display: false, drawTicks: false, tickLength: 0 }, border: { display: false },
            ticks: { font: f, color: '#111', padding: 7 },
            afterFit: (s: any) => { s.height = 32; s.paddingLeft = 0; s.paddingRight = 0; },
          },
          y: {
            type: 'category', labels: blotRows, offset: true,
            grid: { display: false, drawTicks: false, tickLength: 0 }, border: { display: false },
            ticks: { font: f, color: '#111', padding: 16 },
            afterFit: (s: any) => { s.width = 107; s.paddingTop = 0; s.paddingBottom = 0; },
          },
        },
      } as any,
      plugins: [blotPlugin],
    });
    return () => chart.destroy();
  }, []);
  return (
    <canvas ref={ref} width={235} height={90}
      style={{ position: 'absolute', left: 242, top: 495, width: 235, height: 90 }} />
  );
}

const letter = (left: number, top: number, size: number): React.CSSProperties => ({
  position: 'absolute', left, top, font: `bold ${size}px ${SANS}`, color: '#000', lineHeight: 'normal',
});

export default function App() {
  return (
    <div style={{ position: 'absolute', left: 0, top: 0, width: 477, height: 618, background: '#fff', overflow: 'hidden' }}>
      {PANELS.map((p, i) => <TraceChart key={i} panel={p} />)}
      <BarChart />
      <BlotChart />
      <div style={letter(1, -1, 16)}>A</div>
      <div style={letter(1, 175, 16)}>B</div>
      <div style={letter(267, 505, 17)}>C</div>
    </div>
  );
}
